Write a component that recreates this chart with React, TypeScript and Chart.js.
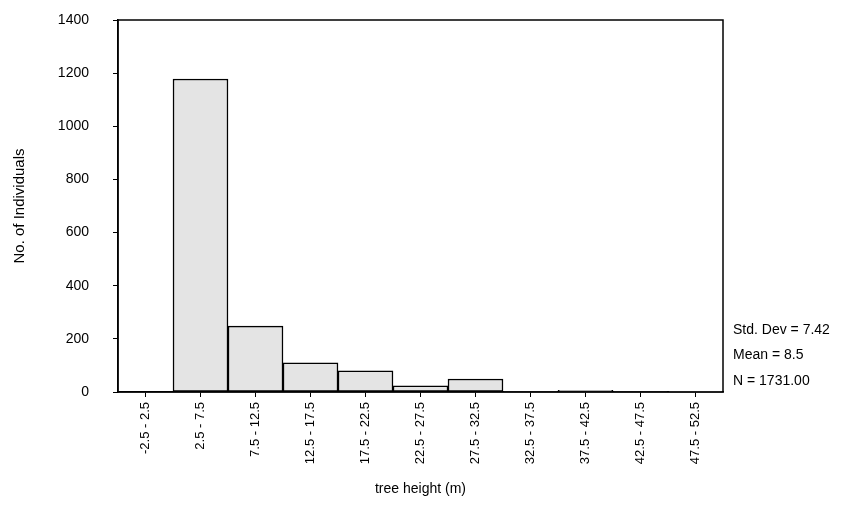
import React, { useEffect, useRef } from "react";
import { Chart, registerables } from "chart.js";

Chart.register(...registerables);

const categories = [
  "-2.5 - 2.5",
  "2.5 - 7.5",
  "7.5 - 12.5",
  "12.5 - 17.5",
  "17.5 - 22.5",
  "22.5 - 27.5",
  "27.5 - 32.5",
  "32.5 - 37.5",
  "37.5 - 42.5",
  "42.5 - 47.5",
  "47.5 - 52.5",
];
const counts = [0, 1178, 248, 110, 80, 23, 49, 2, 6, 2, 1];
const statsLines = ["Std. Dev = 7.42", "Mean = 8.5", "N = 1731.00"];
const yTitle = "No. of Individuals";
const xTitle = "tree height (m)";

const FONT = "'Liberation Sans', Arial, sans-serif";

const framePlugin = {
  id: "frameAndStats",
  afterDraw(chart: any) {
    const { ctx, chartArea } = chart;
    ctx.save();
    ctx.strokeStyle = "#000";
    ctx.lineWidth = 1.5;
    ctx.strokeRect(chartArea.left, chartArea.top, chartArea.right - chartArea.left, chartArea.bottom - chartArea.top);
    ctx.fillStyle = "#000";
    ctx.font = `14px ${FONT}`;
    ctx.textBaseline = "middle";
    ctx.textAlign = "left";
    const x = chartArea.right + 10;
    const last = chartArea.bottom - 11;
    statsLines.forEach((s, i) => {
      ctx.fillText(s, x, last - (statsLines.length - 1 - i) * 25.5);
    });
    ctx.restore();
  },
};

export default function App() {
  const ref = useRef<HTMLCanvasElement | null>(null);
  useEffect(() => {
    document.body.style.margin = "0";
    const canvas = ref.current!;
    const chart = new Chart(canvas, {
      type: "bar",
      data: {
        labels: categories,
        datasets: [
          {
            data: counts,
            backgroundColor: "#e4e4e4",
            borderColor: "#000",
            borderWidth: 1.5,
            borderSkipped: false,
            categoryPercentage: 1,
            barPercentage: 1,
          },
        ],
      },
      options: {
        responsive: false,
        animation: false,
        devicePixelRatio: 1,
        layout: { padding: { left: 0, right: 120, top: 20, bottom: 0 } },
        plugins: {
          legend: { display: false },
          tooltip: { enabled: false },
        },
        scales: {
          x: {
            grid: {
              offset: false,
              drawOnChartArea: false,
              drawTicks: true,
              tickLength: 5,
              color: "#000",
              lineWidth: 1,
            },
            border: { display: true, color: "#000", width: 1.5 },
            ticks: {
              color: "#000",
              font: { family: FONT, size: 13 },
              minRotation: 90,
              maxRotation: 90,
              autoSkip: false,
              padding: 5,
            },
            title: {
              display: true,
              text: xTitle,
              color: "#000",
              font: { family: FONT, size: 14 },
              padding: { top: 0, bottom: 28 },
            },
            afterFit(scale: any) {
              scale.height = 134;
            },
          },
          y: {
            min: 0,
            max: 1400,
            grid: {
              drawOnChartArea: false,
              drawTicks: true,
              tickLength: 5,
              color: "#000",
              lineWidth: 1,
            },
            border: { display: true, color: "#000", width: 1.5 },
            ticks: {
              stepSize: 200,
              color: "#000",
              font: { family: FONT, size: 14 },
              padding: 24,
              callback: (v: any) => String(v),
            },
            title: {
              display: true,
              text: yTitle,
              color: "#000",
              font: { family: FONT, size: 15 },
              padding: { top: 11, bottom: 0 },
            },
            afterFit(scale: any) {
              scale.width = 118;
              scale.paddingTop = 0;
              scale.paddingBottom = 0;
            },
          },
        },
      },
      plugins: [framePlugin],
    });
    return () => chart.destroy();
  }, []);
  return (
    <div style={{ width: 843, height: 526, background: "#fff" }}>
      <canvas ref={ref} width={843} height={526} style={{ display: "block" }} />
    </div>
  );
}
